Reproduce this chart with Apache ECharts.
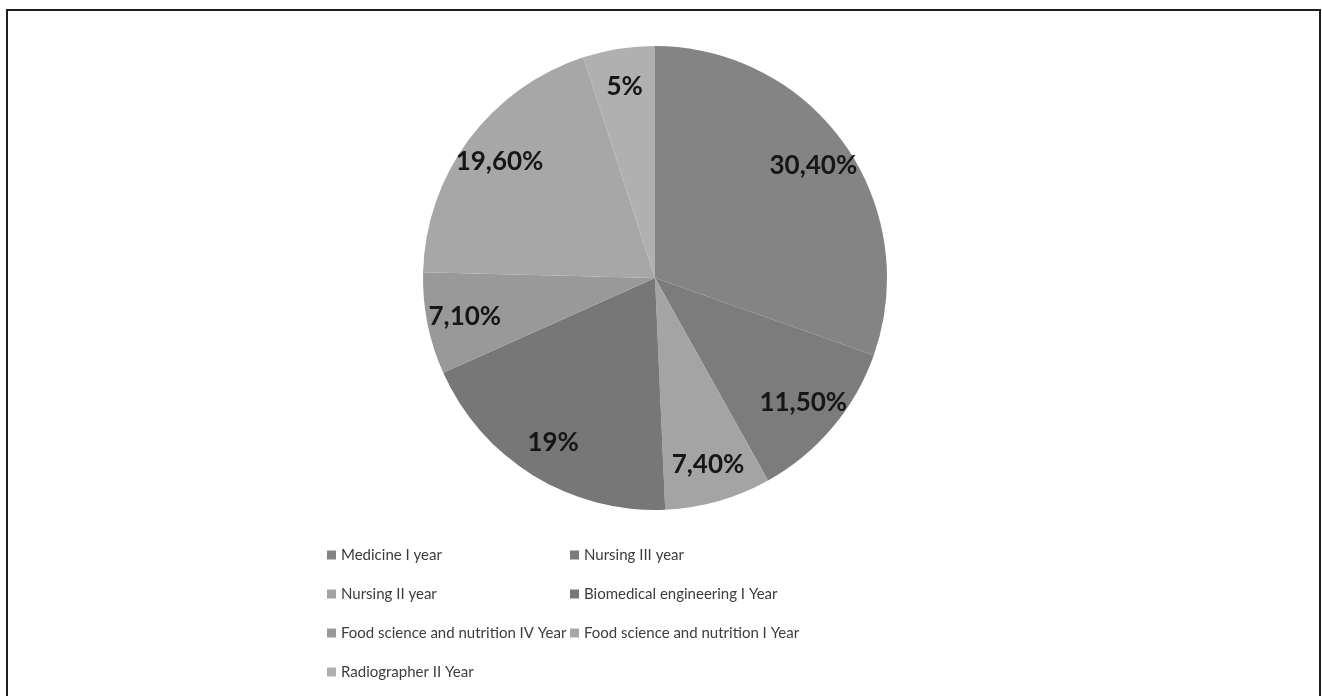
<!DOCTYPE html>
<html>
<head>
<meta charset="utf-8">
<script src="https://cdn.jsdelivr.net/npm/echarts@6/dist/echarts.min.js"></script>
<style>
html,body{margin:0;padding:0;background:#fff;}
#chart{position:absolute;left:0;top:0;width:1322px;height:696px;}
#frame{position:absolute;left:6px;top:9px;width:1311px;height:700px;border:2px solid #1e1e1e;border-bottom:none;pointer-events:none;}
</style>
</head>
<body>
<div id="chart"></div>
<div id="frame"></div>
<script>
const categories = ["Medicine I year","Nursing III year","Nursing II year","Biomedical engineering I Year","Food science and nutrition IV Year","Food science and nutrition I Year","Radiographer II Year"];
const values = [30.4, 11.5, 7.4, 19, 7.1, 19.6, 5];
const labelTexts = ["30,40%","11,50%","7,40%","19%","7,10%","19,60%","5%"];
const colors = ["#848484","#7c7c7c","#a4a4a4","#777777","#999999","#a7a7a7","#b0b0b0"];
const legendLeftCol = ["Medicine I year","Nursing II year","Food science and nutrition IV Year","Radiographer II Year"];
const legendRightCol = ["Nursing III year","Biomedical engineering I Year","Food science and nutrition I Year"];

const chart = echarts.init(document.getElementById('chart'), null, {renderer:'canvas'});
const pieData = categories.map((c,i)=>({name:c,value:values[i],itemStyle:{color:colors[i]}}));
const labelData = categories.map((c,i)=>({name:c,value:values[i],label:{formatter:labelTexts[i]}}));
const legendCommon = {
  orient:'vertical', icon:'rect', itemWidth:9, itemHeight:9, itemGap:21, padding:0,
  textStyle:{fontFamily:'Lato', fontSize:15, color:'#3c3c3c', lineHeight:18},
  selectedMode:false
};
chart.setOption({
  animation:false,
  backgroundColor:'#fff',
  legend:[
    Object.assign({left:327, top:546, data:legendLeftCol}, legendCommon),
    Object.assign({left:570, top:546, data:legendRightCol}, legendCommon)
  ],
  series:[
    {
      type:'pie', center:[655,278], radius:[0,232], startAngle:90, clockwise:true,
      data:pieData, label:{show:false}, labelLine:{show:false},
      itemStyle:{borderWidth:0}, emphasis:{disabled:true}, silent:true
    },
    {
      type:'pie', center:[655,278], radius:[150,232], startAngle:90, clockwise:true,
      data:labelData, itemStyle:{color:'rgba(0,0,0,0)', borderWidth:0},
      label:{show:true, position:'inside', fontFamily:'Lato', fontWeight:'bold', fontSize:26, color:'#161616'},
      labelLine:{show:false}, emphasis:{disabled:true}, silent:true, legendHoverLink:false
    }
  ]
});
</script>
</body>
</html>
